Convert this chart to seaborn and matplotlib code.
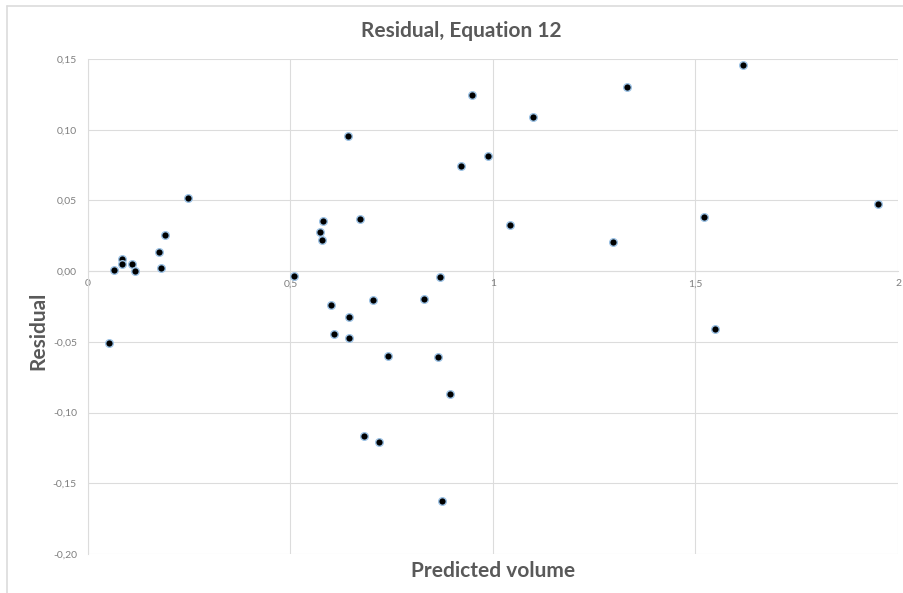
import matplotlib
matplotlib.use("Agg")
import matplotlib.pyplot as plt
import seaborn as sns
import pandas as pd
from matplotlib.lines import Line2D

predicted = [0.051, 0.063, 0.084, 0.084, 0.108, 0.115, 0.175, 0.180, 0.189, 0.246,
             0.509, 0.642, 0.580, 0.573, 0.579, 0.672, 0.920, 0.987, 1.099, 1.043,
             0.868, 0.601, 0.703, 0.830, 0.644, 0.607, 0.644, 0.741, 0.864, 0.895,
             0.681, 0.719, 0.874, 0.949, 1.330, 1.617, 1.297, 1.520, 1.950, 1.548]
residual = [-0.0511, 0.0010, 0.0085, 0.0054, 0.0054, 0.0002, 0.0132, 0.0023, 0.0259, 0.0516,
            -0.0033, 0.0956, 0.0355, 0.0280, 0.0217, 0.0367, 0.0744, 0.0814, 0.1092, 0.0325,
            -0.0040, -0.0240, -0.0203, -0.0200, -0.0323, -0.0443, -0.0473, -0.0603, -0.0605, -0.0871,
            -0.1165, -0.1208, -0.1622, 0.1245, 0.1302, 0.1455, 0.0207, 0.0383, 0.0473, -0.0412]
x_ticks = [0, 0.5, 1, 1.5, 2]
x_tick_labels = ["0", "0,5", "1", "1,5", "2"]
y_ticks = [0.15, 0.10, 0.05, 0.00, -0.05, -0.10, -0.15, -0.20]
y_tick_labels = ["0,15", "0,10", "0,05", "0,00", "-0,05", "-0,10", "-0,15", "-0,20"]

df = pd.DataFrame({"Predicted volume": predicted, "Residual": residual})

sns.set_style("white")
plt.rcParams['font.family'] = ['Lato', 'DejaVu Sans']

W, H = 904, 593
fig = plt.figure(figsize=(W / 100, H / 100), dpi=100)
ax = fig.add_axes([88 / W, 1 - 554 / H, (898 - 88) / W, (554 - 59) / H])

grid_c = "#DCDCDC"
text_c = "#595959"
tick_c = "#7F7F7F"

sns.scatterplot(data=df, x="Predicted volume", y="Residual", ax=ax,
                color="black", edgecolor="#9DC3E6", linewidth=1.0, s=30, zorder=3)

ax.set_xlim(0, 2)
ax.set_ylim(-0.20, 0.15)
ax.set_xticks(x_ticks)
ax.set_xticklabels(x_tick_labels)
ax.set_yticks(y_ticks)
ax.set_yticklabels(y_tick_labels)
ax.grid(True, color=grid_c, linewidth=0.8)
ax.set_axisbelow(True)

for s in ["top", "right"]:
    ax.spines[s].set_visible(False)
ax.spines["left"].set_color(grid_c)
ax.spines["left"].set_linewidth(0.8)
ax.spines["bottom"].set_position(("data", 0))
ax.spines["bottom"].set_color(grid_c)
ax.spines["bottom"].set_linewidth(0.8)

ax.tick_params(axis="both", length=0, labelsize=7.5, labelcolor=tick_c)
ax.tick_params(axis="x", pad=6)
ax.tick_params(axis="y", pad=8)

ax.set_xlabel("")
ax.set_ylabel("")

fig.text(461 / W, 1 - 31 / H, "Residual, Equation 12", ha="center", va="center",
         fontsize=15, fontweight="bold", color=text_c)
fig.text(38 / W, 1 - 331 / H, "Residual", ha="center", va="center", rotation=90,
         fontsize=15, fontweight="bold", color=text_c)
fig.text(493 / W, 1 - 571 / H, "Predicted volume", ha="center", va="center",
         fontsize=15, fontweight="bold", color=text_c)

# chart frame
fig.add_artist(Line2D([7 / W, 1], [1 - 6 / H, 1 - 6 / H], transform=fig.transFigure,
                      color=grid_c, linewidth=1.2))
fig.add_artist(Line2D([7 / W, 7 / W], [0, 1 - 6 / H], transform=fig.transFigure,
                      color=grid_c, linewidth=1.2))

fig.savefig("out.png", dpi=100)
